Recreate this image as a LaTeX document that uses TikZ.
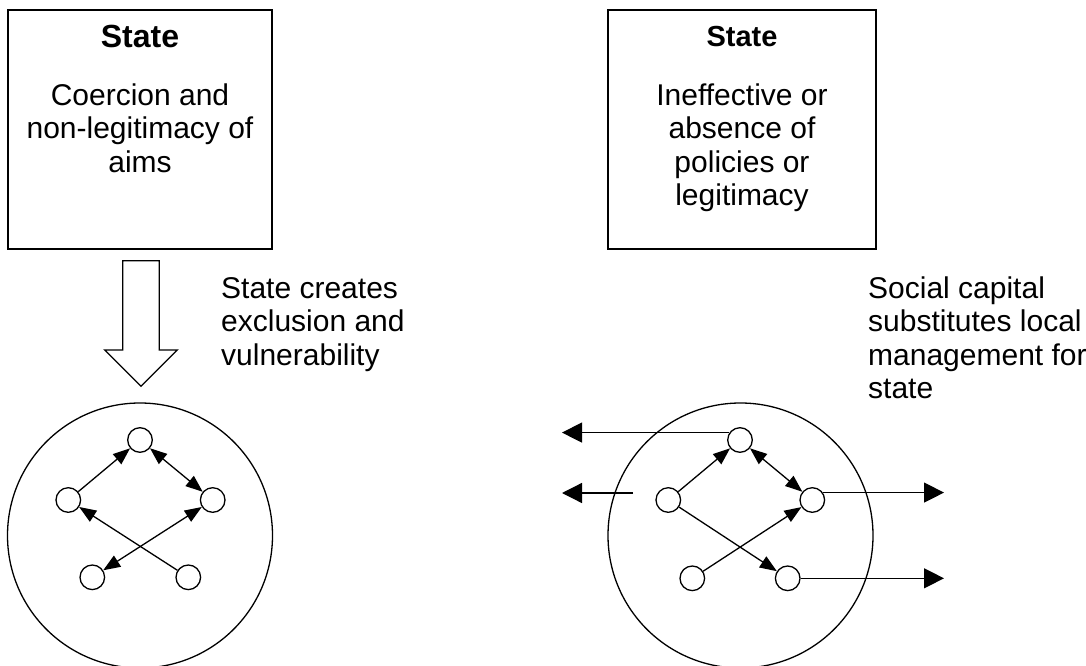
\documentclass[tikz,border=0pt]{standalone}
\usepackage{fontspec}
\setmainfont{Liberation Sans}
\usetikzlibrary{arrows.meta}
\begin{document}
\begin{tikzpicture}[x=1pt,y=-1pt,
  txt/.style={font=\fontsize{30}{33.5}\selectfont, inner sep=0pt, anchor=base},
  hd/.style={txt, font=\fontsize{#1}{33.5}\selectfont\bfseries},
  ltxt/.style={txt, anchor=base west},
  sbox/.style={draw, line width=1.3pt, minimum height=239pt, inner sep=0pt},
  bigc/.style={draw, circle, line width=1.3pt, minimum size=265pt, inner sep=0pt},
  sn/.style={draw, circle, line width=1.3pt, minimum size=24.6pt, inner sep=0pt, fill=white},
  inar/.style={line width=1.3pt, -{Triangle[length=17pt,width=13pt]}},
  biar/.style={line width=1.3pt, {Triangle[length=17pt,width=13pt]}-{Triangle[length=17pt,width=13pt]}},
  outar/.style={line width=1.3pt, -{Triangle[length=20pt,width=20pt]}}]
\useasboundingbox (0,0) rectangle (1086,666);

% ---------- left part ----------
\node[sbox, minimum width=264pt] (lbox) at (140,129.5) {};
\node[hd=32] (lst) at (140,48) {State};
\node[txt] (la1) at (140,106) {Coercion and};
\node[txt] (la2) at (140,139) {non-legitimacy of};
\node[txt] (la3) at (140,172) {aims};

\draw[line width=1.3pt, line join=miter] (122.7,260.7) -- (159.3,260.7) -- (159.3,350) -- (177.3,350)
  -- (141,386.3) -- (104.7,350) -- (122.7,350) -- cycle;

\node[ltxt] (lc1) at (221,298) {State creates};
\node[ltxt] (lc2) at (221,331.5) {exclusion and};
\node[ltxt] (lc3) at (221,365) {vulnerability};

\node[bigc] (lcir) at (140,535.5) {};
\node[sn] (ltop) at (140,440) {};
\node[sn] (lleft) at (68.3,500) {};
\node[sn] (lright) at (212.7,500) {};
\node[sn] (lbl) at (92.3,577.3) {};
\node[sn] (lbr) at (188.3,577.3) {};
\draw[inar] (lleft) -- (ltop);
\draw[biar] (ltop) -- (lright);
\draw[inar] (lbr) -- (lleft);
\draw[biar] (lbl) -- (lright);

% ---------- right part ----------
\node[sbox, minimum width=268pt] (rbox) at (742,129.5) {};
\node[hd=29] (rst) at (742,47) {State};
\node[txt] (ra1) at (742,106) {Ineffective or};
\node[txt] (ra2) at (742,139) {absence of};
\node[txt] (ra3) at (742,172) {policies or};
\node[txt] (ra4) at (742,205) {legitimacy};

\node[ltxt] (rc1) at (868,298) {Social capital};
\node[ltxt] (rc2) at (868,331.5) {substitutes local};
\node[ltxt] (rc3) at (868,365) {management for};
\node[ltxt] (rc4) at (868,398.5) {state};

\node[bigc] (rcir) at (740.5,535.5) {};
\node[sn] (rtop) at (740,440) {};
\node[sn] (rleft) at (668.3,500) {};
\node[sn] (rright) at (812.3,500) {};
\node[sn] (rbl) at (692.3,578.3) {};
\node[sn] (rbr) at (787.7,578.3) {};
\draw[inar] (rleft) -- (rtop);
\draw[biar] (rtop) -- (rright);
\draw[inar] (rleft) -- (rbr);
\draw[inar] (rbl) -- (rright);

\coordinate (oleft) at (562,0);
\coordinate (oright) at (944,0);
\coordinate (s1) at (633,493);
\draw[outar] (rtop.145) -- (rtop.145 -| oleft);
\draw[outar] (s1) -- (s1 -| oleft);
\draw[outar] (rright.35) -- (rright.35 -| oright);
\draw[outar] (rbr.east) -- (rbr.east -| oright);
\end{tikzpicture}
\end{document}
